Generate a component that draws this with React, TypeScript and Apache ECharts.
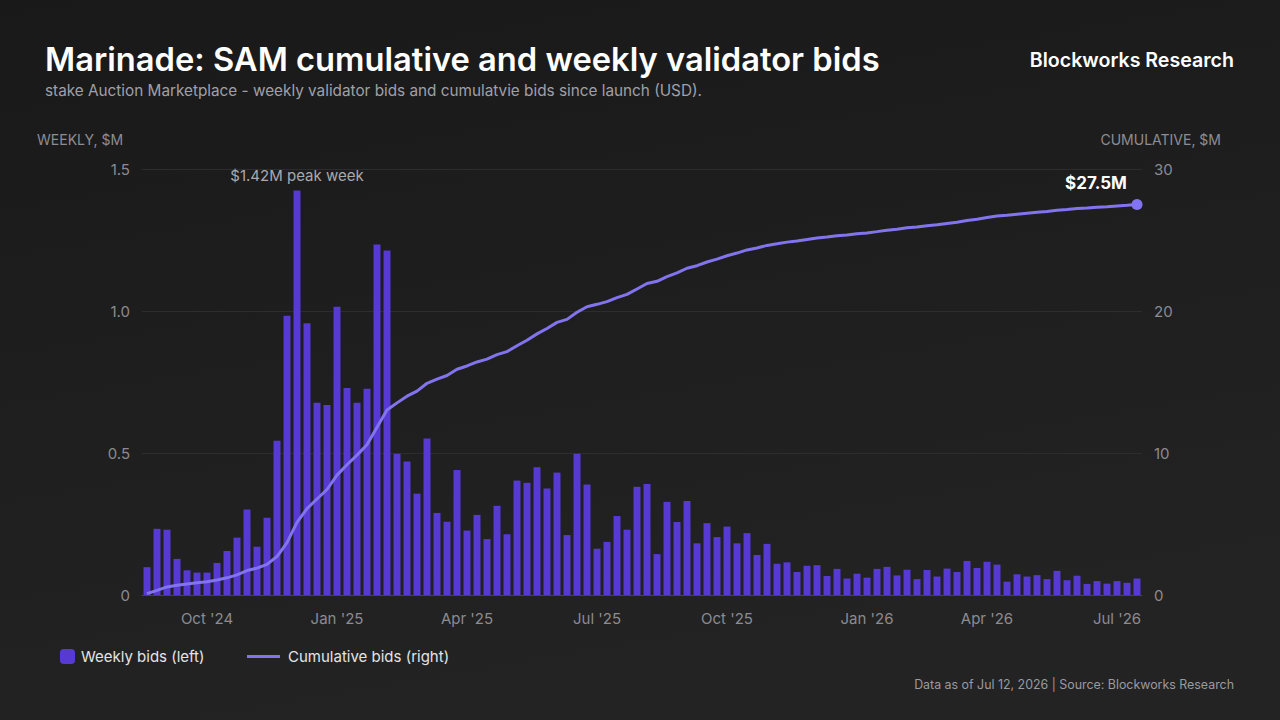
import React, { useEffect, useRef } from "react";
import * as echarts from "echarts";

const weeklyBids: number[] = [
  0.098, 0.233, 0.23, 0.127, 0.087, 0.079, 0.079, 0.113, 0.155, 0.202,
  0.301, 0.17, 0.272, 0.543, 0.983, 1.424, 0.957, 0.677, 0.669, 1.015,
  0.729, 0.677, 0.726, 1.234, 1.213, 0.497, 0.47, 0.357, 0.551, 0.289,
  0.258, 0.44, 0.227, 0.282, 0.197, 0.314, 0.214, 0.403, 0.395, 0.45,
  0.375, 0.431, 0.211, 0.497, 0.389, 0.163, 0.187, 0.278, 0.23, 0.381,
  0.391, 0.144, 0.328, 0.257, 0.331, 0.182, 0.253, 0.204, 0.241, 0.182,
  0.218, 0.141, 0.18, 0.11, 0.115, 0.081, 0.103, 0.105, 0.067, 0.092,
  0.058, 0.075, 0.061, 0.092, 0.099, 0.069, 0.089, 0.056, 0.088, 0.065,
  0.093, 0.081, 0.12, 0.095, 0.117, 0.107, 0.047, 0.073, 0.065, 0.07,
  0.056, 0.085, 0.052, 0.068, 0.039, 0.049, 0.04, 0.049, 0.043, 0.058,
];

const cumulativeBids: number[] = [
  0.1, 0.33, 0.57, 0.69, 0.78, 0.86, 0.94, 1.06, 1.21, 1.42,
  1.72, 1.89, 2.16, 2.71, 3.69, 5.12, 6.08, 6.76, 7.43, 8.44,
  9.17, 9.85, 10.58, 11.81, 13.03, 13.53, 14.0, 14.36, 14.91, 15.2,
  15.46, 15.9, 16.13, 16.41, 16.61, 16.93, 17.14, 17.55, 17.94, 18.39,
  18.77, 19.2, 19.41, 19.91, 20.3, 20.47, 20.66, 20.94, 21.17, 21.55,
  21.94, 22.09, 22.42, 22.68, 23.01, 23.19, 23.45, 23.65, 23.89, 24.08,
  24.3, 24.44, 24.62, 24.73, 24.85, 24.93, 25.03, 25.14, 25.21, 25.3,
  25.36, 25.44, 25.5, 25.59, 25.69, 25.76, 25.86, 25.91, 26.0, 26.07,
  26.16, 26.25, 26.37, 26.46, 26.58, 26.69, 26.74, 26.81, 26.88, 26.95,
  27.01, 27.09, 27.15, 27.22, 27.26, 27.31, 27.35, 27.4, 27.44, 27.5,
];

const firstWeek = "2024-08-20";
const tickIndices: number[] = [6, 19, 32, 45, 58, 72, 84, 97];
const tickLabels: string[] = ["Oct '24", "Jan '25", "Apr '25", "Jul '25", "Oct '25", "Jan '26", "Apr '26", "Jul '26"];
const leftTicks = { min: 0, max: 1.5, interval: 0.5 };
const rightTicks = { min: 0, max: 30, interval: 10 };

const weekCategories: string[] = weeklyBids.map((_, i) => {
  const d = new Date(firstWeek + "T00:00:00Z");
  d.setUTCDate(d.getUTCDate() + i * 7);
  return d.toISOString().slice(0, 10);
});

const FONT = "Inter, 'Noto Sans', sans-serif";
const BAR = "#5739d3";
const LINE = "#8274ee";
const AXIS_TXT = "#8b8b91";

export default function App() {
  const ref = useRef<HTMLDivElement>(null);

  useEffect(() => {
    document.body.style.margin = "0";
    const chart = echarts.init(ref.current!, undefined, { renderer: "svg" });
    const peakIdx = weeklyBids.indexOf(Math.max(...weeklyBids));
    const lastIdx = cumulativeBids.length - 1;

    chart.setOption({
      animation: false,
      backgroundColor: {
        type: "linear",
        x: 0,
        y: 0,
        x2: 0.3,
        y2: 1,
        colorStops: [
          { offset: 0, color: "#191919" },
          { offset: 1, color: "#232323" },
        ],
      },
      textStyle: { fontFamily: FONT },
      grid: { left: 142, right: 138, top: 169, bottom: 125, containLabel: false },
      legend: [
        {
          data: [{ name: "Weekly bids (left)", icon: "roundRect" }],
          left: 60,
          top: 649,
          padding: 0,
          itemWidth: 15,
          itemHeight: 15,
          textStyle: { color: "#e4e4e6", fontSize: 15, fontFamily: FONT, padding: [0, 0, 0, 1] },
        },
        {
          data: [{ name: "Cumulative bids (right)", icon: "rect" }],
          left: 247,
          top: 649,
          padding: 0,
          itemWidth: 33,
          itemHeight: 3,
          textStyle: { color: "#e4e4e6", fontSize: 15, fontFamily: FONT, padding: [0, 0, 0, 3] },
        },
      ],
      xAxis: {
        type: "category",
        data: weekCategories,
        boundaryGap: true,
        axisLine: { show: true, lineStyle: { color: "#464646", width: 1 } },
        axisTick: { show: false },
        axisLabel: {
          interval: (i: number) => tickIndices.includes(i),
          formatter: (_v: string, i: number) => tickLabels[tickIndices.indexOf(i)] ?? "",
          color: AXIS_TXT,
          fontSize: 15,
          fontFamily: FONT,
          margin: 16,
        },
        splitLine: { show: false },
      },
      yAxis: [
        {
          type: "value",
          ...leftTicks,
          axisLine: { show: false },
          axisTick: { show: false },
          axisLabel: {
            color: AXIS_TXT,
            fontSize: 15,
            fontFamily: FONT,
            margin: 12,
            formatter: (v: number) => (v === 0 ? "0" : v.toFixed(1)),
          },
          splitLine: { show: true, lineStyle: { color: "#2d2d2d", width: 1 } },
        },
        {
          type: "value",
          ...rightTicks,
          axisLine: { show: false },
          axisTick: { show: false },
          axisLabel: { color: AXIS_TXT, fontSize: 15, fontFamily: FONT, margin: 12 },
          splitLine: { show: false },
        },
      ],
      series: [
        {
          name: "Weekly bids (left)",
          type: "bar",
          yAxisIndex: 0,
          barWidth: 7,
          itemStyle: { color: BAR },
          data: weeklyBids.map((v, i) =>
            i === peakIdx
              ? {
                  value: v,
                  label: {
                    show: true,
                    position: "top",
                    distance: 8,
                    formatter: "$1.42M peak week",
                    color: "#a9a9af",
                    fontSize: 15,
                    fontFamily: FONT,
                  },
                }
              : v
          ),
          z: 2,
        },
        {
          name: "Cumulative bids (right)",
          type: "line",
          yAxisIndex: 1,
          showSymbol: true,
          symbol: "circle",
          symbolSize: 0,
          lineStyle: { color: LINE, width: 3 },
          itemStyle: { color: LINE },
          data: cumulativeBids.map((v, i) =>
            i === lastIdx
              ? {
                  value: v,
                  symbolSize: 11,
                  label: {
                    show: true,
                    position: "top",
                    distance: 5,
                    offset: [-41, -3],
                    formatter: "$27.5M",
                    color: "#ffffff",
                    fontSize: 17,
                    fontWeight: "bold",
                    fontFamily: FONT,
                  },
                }
              : v
          ),
          z: 3,
        },
      ],
      graphic: [
        {
          type: "text",
          left: 45,
          top: 42,
          style: {
            text: "Marinade: SAM cumulative and weekly validator bids",
            fill: "#ffffff",
            font: `600 32.7px ${FONT}`,
          },
        },
        {
          type: "text",
          left: 45,
          top: 83,
          style: {
            text: "stake Auction Marketplace - weekly validator bids and cumulatvie bids since launch (USD).",
            fill: "#a0a0a8",
            font: `400 15.3px ${FONT}`,
          },
        },
        {
          type: "text",
          right: 46,
          top: 50,
          style: {
            text: "Blockworks Research",
            fill: "#ffffff",
            font: `600 19.6px ${FONT}`,
          },
        },
        {
          type: "text",
          left: 37,
          top: 132,
          style: { text: "WEEKLY, $M", fill: "#8d8d93", font: `400 14px ${FONT}` },
        },
        {
          type: "text",
          right: 59,
          top: 132,
          style: { text: "CUMULATIVE, $M", fill: "#8d8d93", font: `400 14px ${FONT}` },
        },
        {
          type: "text",
          right: 46,
          top: 678,
          style: {
            text: "Data as of Jul 12, 2026 | Source: Blockworks Research",
            fill: "#9a9aa0",
            font: `400 12.4px ${FONT}`,
          },
        },
      ],
    });

    return () => chart.dispose();
  }, []);

  return (
    <div
      ref={ref}
      style={{ position: "fixed", left: 0, top: 0, width: 1280, height: 720 }}
    />
  );
}
